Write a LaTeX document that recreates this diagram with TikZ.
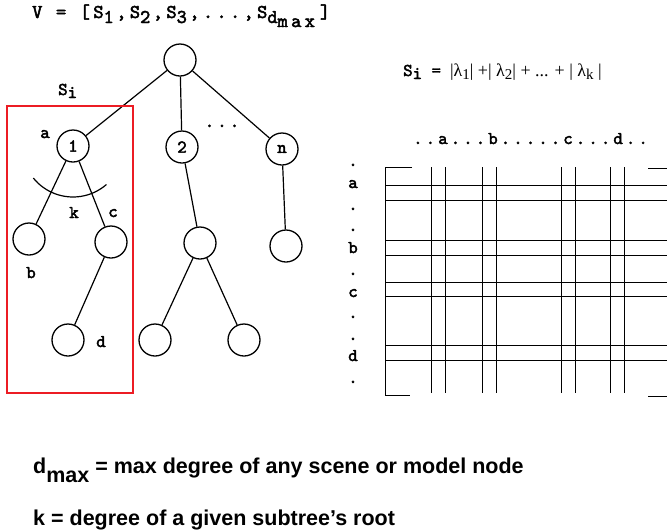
\documentclass[tikz,border=0pt]{standalone}
\usepackage{fontspec}
\setmainfont{Liberation Serif}
\setsansfont{Liberation Sans}
\newfontfamily\codefont{lmmono10-regular.otf}[LetterSpace=17, FakeBold=2.5]
\usetikzlibrary{positioning}
\definecolor{BoxRed}{RGB}{236,28,36}
\newcommand\dn[2][4pt]{\raisebox{-#1}{#2}\kern2.5pt}

\begin{document}
\begin{tikzpicture}[x=1pt,y=-1pt,
  vert/.style={circle, draw, line width=1.3pt, minimum size=32pt, inner sep=0pt,
    font=\codefont\fontsize{18}{20}\selectfont},
  lab/.style={anchor=base, inner sep=0pt, font=\codefont\fontsize{18}{20}\selectfont},
  codeline/.style={anchor=base west, inner sep=0pt, font=\codefont\fontsize{18}{20}\selectfont},
  edge/.style={line width=1.2pt},
  grid/.style={line width=1pt},
  note/.style={anchor=base west, inner sep=0pt, font=\sffamily\bfseries\fontsize{21.5}{24}\selectfont}]
  \path[use as bounding box] (0,0) rectangle (667,531);

  \node[codeline, font=\codefont\fontsize{19.5}{22}\selectfont] (vector) at (32,18) {V = [S\dn[5pt]{1},S\dn[5pt]{2},S\dn[5pt]{3},...,S\dn[5pt]{d\dn[4pt]{max}}]};

  % tree
  \foreach \nm/\x/\y/\t in {root/180/60/{}, n1/73/146/1, n2/182/147/2, nn/282/149/n,
      nb/29/239/{}, nc/111/242/{}, nd/68/340/{}, m2/200/243/{}, l2a/155/340/{}, l2b/244/340/{}, ln/286/246/{}}{
    \node[vert] (\nm) at (\x,\y) {\t};
  }
  \foreach \a/\b in {root/n1, root/n2, root/nn, n1/nb, n1/nc, nc/nd, n2/m2, m2/l2a, m2/l2b, nn/ln}{
    \draw[edge] (\a) -- (\b);
  }
  \node[lab] (more) at (222,127) {...};
  \draw[edge] (n1.center) ++(141:51) arc[start angle=141, end angle=49, radius=51];

  \node[lab] (la) at (45,138) {a};
  \node[lab] (lk) at (74,218) {k};
  \node[lab] (lc) at (113,217) {c};
  \node[lab] (lb) at (31,278) {b};
  \node[lab] (ld) at (101,347) {d};

  \draw[BoxRed, line width=1.5pt] (7,106) rectangle (133,393);
  \node[codeline] (subtree) at (58,95) {S\dn[3pt]{i}};

  \node[codeline] (formula) at (403,76) {S\dn[3pt]{i}\hspace{7pt}=\hspace{9pt}{\rmfamily\mdseries |λ\raisebox{-3pt}{\fontsize{15}{16}\selectfont 1}| +| λ\raisebox{-3pt}{\fontsize{15}{16}\selectfont 2}| + ... + | λ\raisebox{-3pt}{\fontsize{15}{16}\selectfont k} |}};

  % matrix
  \node[codeline] (colhead) at (413,144) {..a...b.....c...d..};
  \foreach \y/\t [count=\i] in {166/., 188/a, 210/., 231/., 253/b, 275/., 297/c, 318/., 340/., 361/d, 383/.}{
    \node[lab] (row\i) at (353,\y) {\t};
  }
  \draw[grid] (412,167) -- (385,167) -- (385,395) -- (410,395);
  \draw[grid] (648,168) -- (667,168) (648,396) -- (667,396);
  \foreach \y in {185,200.7,240,255.7,282.3,296.7,345.7,360.7}{
    \draw[grid] (385,\y) -- (667,\y);
  }
  \foreach \x in {431.7,445.7,482.7,496,561,575,610,624}{
    \draw[grid] (\x,167) -- (\x,393);
  }

  \node[note] (dmaxnote) at (33,473) {d\raisebox{-9pt}{max} = max degree of any scene or model node};
  \node[note] (knote) at (33,525) {k = degree of a given subtree’s root};
\end{tikzpicture}
\end{document}
